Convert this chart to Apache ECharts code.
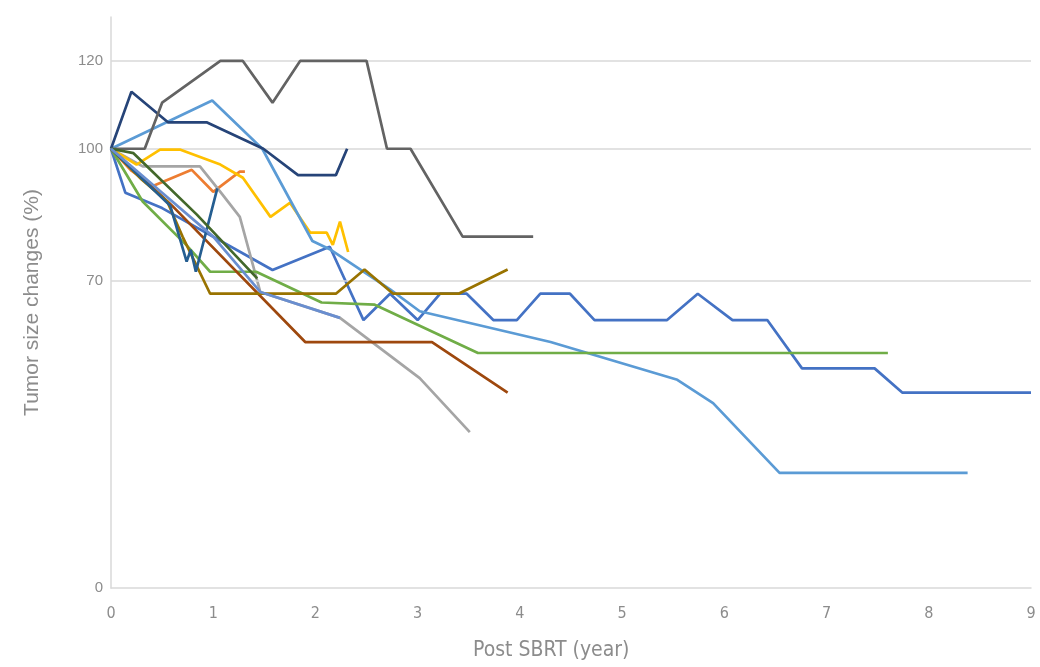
<!DOCTYPE html>
<html>
<head>
<meta charset="utf-8">
<script src="https://cdn.jsdelivr.net/npm/echarts@6/dist/echarts.min.js"></script>
<style>html,body{margin:0;padding:0;background:#fff}#c{width:1040px;height:667px}</style>
</head>
<body>
<div id="c"></div>
<script>
// Tick labels
const yTicks = [0, 70, 100, 120];
const xTicks = [0, 1, 2, 3, 4, 5, 6, 7, 8, 9];
// Series data: [years after SBRT, tumor size %]
const s01 = [[0,100],[0.14,90],[0.5,86.5],[1.58,72.4],[2.14,77.7],[2.47,61],[2.73,67],[3.0,61],[3.22,67],[3.48,67],[3.74,61],[3.97,61],[4.2,67],[4.49,67],[4.73,61],[5.44,61],[5.74,67],[6.08,61],[6.42,61],[6.76,50],[7.47,50],[7.74,44.5],[9,44.5]];
const s02 = [[0,100],[0.2,95],[0.41,91.5],[0.79,95.2],[1.0,90.2],[1.26,94.8],[1.31,94.8]];
const s03 = [[0,100],[0.31,96],[0.87,96],[1.07,90.2],[1.26,84.5],[1.46,67.4],[2.24,61.5],[3.02,47.8],[3.51,35.5]];
const s04 = [[0,100],[0.25,96.4],[0.48,99.8],[0.68,99.8],[1.07,96.4],[1.29,93.4],[1.56,84.5],[1.75,87.7],[1.95,80.9],[2.11,80.9],[2.17,78.1],[2.24,83.4],[2.32,76.5]];
const s05 = [[0,100],[0.99,111],[1.48,100],[1.97,79],[2.15,77],[2.73,68],[3.02,63],[4.3,56],[5.54,47.4],[5.89,42.1],[6.54,26.2],[8.38,26.2]];
const s06 = [[0,100],[0.31,88],[0.74,78],[0.97,72],[1.42,72],[2.06,65],[2.58,64.5],[3.59,53.5],[7.6,53.5]];
const s07 = [[0,100],[0.2,113],[0.56,106],[0.94,106],[1.49,100],[1.83,94],[2.2,94],[2.31,100]];
const s08 = [[0,100],[0.6,87],[1.9,56],[3.14,56],[3.88,44.5]];
const s09 = [[0,100],[0.33,100],[0.5,110.5],[1.07,120],[1.29,120],[1.58,110.5],[1.85,120],[2.5,120],[2.7,100],[2.93,100],[3.44,80],[4.13,80]];
const s10 = [[0,100],[0.3,93],[0.55,88],[0.7,80],[0.97,67],[2.2,67],[2.48,72.5],[2.76,67],[3.4,67],[3.88,72.5]];
const s11 = [[0,100],[0.58,87],[0.74,74.3],[0.78,77],[0.83,72],[1.04,91]];
const s12 = [[0,100],[0.22,99],[0.84,85],[1.43,70.5]];
const s13 = [[0,100],[0.5,90],[1.0,80],[1.46,67.4],[2.24,61.5]];
const seriesData = [s01,s02,s03,s04,s05,s06,s07,s08,s09,s10,s11,s12,s13];
const colors = ['#4472c4','#ed7d31','#a5a5a5','#ffc000','#5b9bd5','#70ad47','#264478','#9e480e','#636363','#997300','#255e91','#43682b','#698ed0'];
const gridValues = [70, 100, 120];

const chart = echarts.init(document.getElementById('c'), null, {renderer:'canvas'});
const lblColor = '#8c8c8c';
const narrow = '"Liberation Sans Narrow","DejaVu Sans Condensed",sans-serif';
const series = [{
  type:'line', data:[], z:1, silent:true,
  markLine:{silent:true, symbol:'none', label:{show:false},
    lineStyle:{color:'#d9d9d9', type:'solid', width:1.5},
    data: gridValues.map(v=>({yAxis:v}))}
}];
seriesData.forEach((d,i)=>{
  series.push({type:'line', data:d, showSymbol:false, symbol:'none',
    lineStyle:{color:colors[i], width:2.7}, itemStyle:{color:colors[i]}, z:2+i});
});
chart.setOption({
  animation:false,
  grid:{left:111, right:9, top:17, bottom:79, containLabel:false},
  graphic:[{type:'text', left:473, top:640,
    style:{text:'Post SBRT (year)', fill:lblColor, fontSize:21, fontFamily:narrow}}],
  xAxis:{type:'value', min:0, max:9, interval:1,
    axisLine:{show:true, lineStyle:{color:'#d9d9d9', width:1.5}},
    axisTick:{show:false}, splitLine:{show:false},
    axisLabel:{color:lblColor, fontSize:16, margin:18, fontFamily:narrow,
      formatter:v=> xTicks.includes(v)? String(v):''}
  },
  yAxis:{type:'value', min:0, max:130,
    axisLine:{show:true, lineStyle:{color:'#d9d9d9', width:1.5}},
    axisTick:{show:false}, splitLine:{show:false},
    axisLabel:{color:lblColor, fontSize:15, margin:8, fontFamily:'"Liberation Sans",sans-serif', customValues:yTicks},
    name:'Tumor size changes (%)', nameLocation:'middle', nameGap:68,
    nameTextStyle:{color:lblColor, fontSize:21, fontFamily:'"Liberation Sans",sans-serif'}
  },
  series
});
</script>
</body>
</html>
